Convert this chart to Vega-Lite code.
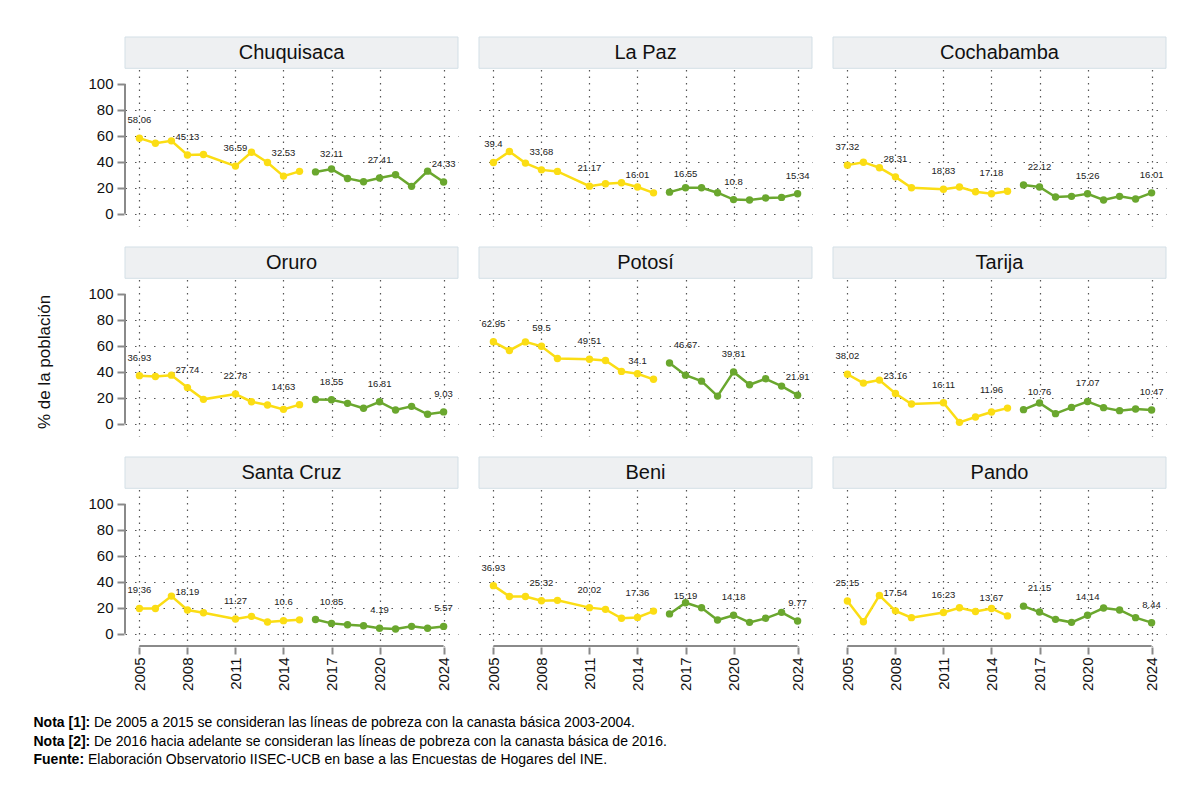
{
"$schema": "https://vega.github.io/schema/vega-lite/v6.json",
"background": "white",
"padding": {"left": 33, "top": 35, "right": 5, "bottom": 5},
"config": {"view": {"stroke": null}, "font": "Liberation Sans", "header": {"labels": false, "title": null}},
"datasets": {
"pov": [
{"r":"Chuquisaca","y":2005,"v":58.06,"p":"A","ly":2005},{"r":"Chuquisaca","y":2006,"v":54.2,"p":"A"},{"r":"Chuquisaca","y":2007,"v":56.0,"p":"A"},{"r":"Chuquisaca","y":2008,"v":45.13,"p":"A","ly":2008},{"r":"Chuquisaca","y":2009,"v":45.5,"p":"A"},{"r":"Chuquisaca","y":2011,"v":36.59,"p":"A","ly":2011},{"r":"Chuquisaca","y":2012,"v":47.3,"p":"A"},{"r":"Chuquisaca","y":2013,"v":39.4,"p":"A"},{"r":"Chuquisaca","y":2014,"v":28.9,"p":"A"},{"r":"Chuquisaca","y":2015,"v":32.53,"p":"A","ly":2014},
{"r":"Chuquisaca","y":2016,"v":32.11,"p":"B","ly":2017},{"r":"Chuquisaca","y":2017,"v":34.3,"p":"B"},{"r":"Chuquisaca","y":2018,"v":27.1,"p":"B"},{"r":"Chuquisaca","y":2019,"v":24.6,"p":"B"},{"r":"Chuquisaca","y":2020,"v":27.41,"p":"B","ly":2020},{"r":"Chuquisaca","y":2021,"v":29.9,"p":"B"},{"r":"Chuquisaca","y":2022,"v":21.0,"p":"B"},{"r":"Chuquisaca","y":2023,"v":32.7,"p":"B"},{"r":"Chuquisaca","y":2024,"v":24.33,"p":"B","ly":2024},
{"r":"La Paz","y":2005,"v":39.4,"p":"A","ly":2005},{"r":"La Paz","y":2006,"v":47.8,"p":"A"},{"r":"La Paz","y":2007,"v":38.9,"p":"A"},{"r":"La Paz","y":2008,"v":33.68,"p":"A","ly":2008},{"r":"La Paz","y":2009,"v":32.5,"p":"A"},{"r":"La Paz","y":2011,"v":21.17,"p":"A","ly":2011},{"r":"La Paz","y":2012,"v":23.0,"p":"A"},{"r":"La Paz","y":2013,"v":23.8,"p":"A"},{"r":"La Paz","y":2014,"v":20.5,"p":"A"},{"r":"La Paz","y":2015,"v":16.01,"p":"A","ly":2014},
{"r":"La Paz","y":2016,"v":16.55,"p":"B","ly":2017},{"r":"La Paz","y":2017,"v":19.9,"p":"B"},{"r":"La Paz","y":2018,"v":19.9,"p":"B"},{"r":"La Paz","y":2019,"v":16.1,"p":"B"},{"r":"La Paz","y":2020,"v":10.8,"p":"B","ly":2020},{"r":"La Paz","y":2021,"v":10.5,"p":"B"},{"r":"La Paz","y":2022,"v":12.0,"p":"B"},{"r":"La Paz","y":2023,"v":12.5,"p":"B"},{"r":"La Paz","y":2024,"v":15.34,"p":"B","ly":2024},
{"r":"Cochabamba","y":2005,"v":37.32,"p":"A","ly":2005},{"r":"Cochabamba","y":2006,"v":39.6,"p":"A"},{"r":"Cochabamba","y":2007,"v":35.3,"p":"A"},{"r":"Cochabamba","y":2008,"v":28.31,"p":"A","ly":2008},{"r":"Cochabamba","y":2009,"v":19.9,"p":"A"},{"r":"Cochabamba","y":2011,"v":18.83,"p":"A","ly":2011},{"r":"Cochabamba","y":2012,"v":20.5,"p":"A"},{"r":"Cochabamba","y":2013,"v":16.9,"p":"A"},{"r":"Cochabamba","y":2014,"v":15.3,"p":"A"},{"r":"Cochabamba","y":2015,"v":17.18,"p":"A","ly":2014},
{"r":"Cochabamba","y":2016,"v":22.12,"p":"B","ly":2017},{"r":"Cochabamba","y":2017,"v":20.5,"p":"B"},{"r":"Cochabamba","y":2018,"v":12.8,"p":"B"},{"r":"Cochabamba","y":2019,"v":13.3,"p":"B"},{"r":"Cochabamba","y":2020,"v":15.26,"p":"B","ly":2020},{"r":"Cochabamba","y":2021,"v":10.5,"p":"B"},{"r":"Cochabamba","y":2022,"v":13.3,"p":"B"},{"r":"Cochabamba","y":2023,"v":11.3,"p":"B"},{"r":"Cochabamba","y":2024,"v":16.01,"p":"B","ly":2024},
{"r":"Oruro","y":2005,"v":36.93,"p":"A","ly":2005},{"r":"Oruro","y":2006,"v":36.3,"p":"A"},{"r":"Oruro","y":2007,"v":37.3,"p":"A"},{"r":"Oruro","y":2008,"v":27.74,"p":"A","ly":2008},{"r":"Oruro","y":2009,"v":18.7,"p":"A"},{"r":"Oruro","y":2011,"v":22.78,"p":"A","ly":2011},{"r":"Oruro","y":2012,"v":16.9,"p":"A"},{"r":"Oruro","y":2013,"v":14.3,"p":"A"},{"r":"Oruro","y":2014,"v":11.0,"p":"A"},{"r":"Oruro","y":2015,"v":14.63,"p":"A","ly":2014},
{"r":"Oruro","y":2016,"v":18.55,"p":"B","ly":2017},{"r":"Oruro","y":2017,"v":18.4,"p":"B"},{"r":"Oruro","y":2018,"v":15.6,"p":"B"},{"r":"Oruro","y":2019,"v":11.8,"p":"B"},{"r":"Oruro","y":2020,"v":16.81,"p":"B","ly":2020},{"r":"Oruro","y":2021,"v":10.5,"p":"B"},{"r":"Oruro","y":2022,"v":13.3,"p":"B"},{"r":"Oruro","y":2023,"v":7.2,"p":"B"},{"r":"Oruro","y":2024,"v":9.03,"p":"B","ly":2024},
{"r":"Potosí","y":2005,"v":62.95,"p":"A","ly":2005},{"r":"Potosí","y":2006,"v":56.3,"p":"A"},{"r":"Potosí","y":2007,"v":62.9,"p":"A"},{"r":"Potosí","y":2008,"v":59.5,"p":"A","ly":2008},{"r":"Potosí","y":2009,"v":50.1,"p":"A"},{"r":"Potosí","y":2011,"v":49.51,"p":"A","ly":2011},{"r":"Potosí","y":2012,"v":48.6,"p":"A"},{"r":"Potosí","y":2013,"v":40.2,"p":"A"},{"r":"Potosí","y":2014,"v":38.4,"p":"A"},{"r":"Potosí","y":2015,"v":34.1,"p":"A","ly":2014},
{"r":"Potosí","y":2016,"v":46.67,"p":"B","ly":2017},{"r":"Potosí","y":2017,"v":37.3,"p":"B"},{"r":"Potosí","y":2018,"v":32.7,"p":"B"},{"r":"Potosí","y":2019,"v":21.2,"p":"B"},{"r":"Potosí","y":2020,"v":39.81,"p":"B","ly":2020},{"r":"Potosí","y":2021,"v":29.9,"p":"B"},{"r":"Potosí","y":2022,"v":34.5,"p":"B"},{"r":"Potosí","y":2023,"v":28.9,"p":"B"},{"r":"Potosí","y":2024,"v":21.91,"p":"B","ly":2024},
{"r":"Tarija","y":2005,"v":38.02,"p":"A","ly":2005},{"r":"Tarija","y":2006,"v":31.2,"p":"A"},{"r":"Tarija","y":2007,"v":33.5,"p":"A"},{"r":"Tarija","y":2008,"v":23.16,"p":"A","ly":2008},{"r":"Tarija","y":2009,"v":15.1,"p":"A"},{"r":"Tarija","y":2011,"v":16.11,"p":"A","ly":2011},{"r":"Tarija","y":2012,"v":1.0,"p":"A"},{"r":"Tarija","y":2013,"v":5.1,"p":"A"},{"r":"Tarija","y":2014,"v":9.0,"p":"A"},{"r":"Tarija","y":2015,"v":11.96,"p":"A","ly":2014},
{"r":"Tarija","y":2016,"v":10.76,"p":"B","ly":2017},{"r":"Tarija","y":2017,"v":15.9,"p":"B"},{"r":"Tarija","y":2018,"v":7.7,"p":"B"},{"r":"Tarija","y":2019,"v":12.5,"p":"B"},{"r":"Tarija","y":2020,"v":17.07,"p":"B","ly":2020},{"r":"Tarija","y":2021,"v":12.3,"p":"B"},{"r":"Tarija","y":2022,"v":10.0,"p":"B"},{"r":"Tarija","y":2023,"v":11.3,"p":"B"},{"r":"Tarija","y":2024,"v":10.47,"p":"B","ly":2024},
{"r":"Santa Cruz","y":2005,"v":19.36,"p":"A","ly":2005},{"r":"Santa Cruz","y":2006,"v":19.4,"p":"A"},{"r":"Santa Cruz","y":2007,"v":28.9,"p":"A"},{"r":"Santa Cruz","y":2008,"v":18.19,"p":"A","ly":2008},{"r":"Santa Cruz","y":2009,"v":16.1,"p":"A"},{"r":"Santa Cruz","y":2011,"v":11.27,"p":"A","ly":2011},{"r":"Santa Cruz","y":2012,"v":13.3,"p":"A"},{"r":"Santa Cruz","y":2013,"v":9.0,"p":"A"},{"r":"Santa Cruz","y":2014,"v":10.0,"p":"A"},{"r":"Santa Cruz","y":2015,"v":10.6,"p":"A","ly":2014},
{"r":"Santa Cruz","y":2016,"v":10.85,"p":"B","ly":2017},{"r":"Santa Cruz","y":2017,"v":7.9,"p":"B"},{"r":"Santa Cruz","y":2018,"v":6.9,"p":"B"},{"r":"Santa Cruz","y":2019,"v":6.1,"p":"B"},{"r":"Santa Cruz","y":2020,"v":4.19,"p":"B","ly":2020},{"r":"Santa Cruz","y":2021,"v":3.6,"p":"B"},{"r":"Santa Cruz","y":2022,"v":5.6,"p":"B"},{"r":"Santa Cruz","y":2023,"v":4.1,"p":"B"},{"r":"Santa Cruz","y":2024,"v":5.57,"p":"B","ly":2024},
{"r":"Beni","y":2005,"v":36.93,"p":"A","ly":2005},{"r":"Beni","y":2006,"v":28.6,"p":"A"},{"r":"Beni","y":2007,"v":28.6,"p":"A"},{"r":"Beni","y":2008,"v":25.32,"p":"A","ly":2008},{"r":"Beni","y":2009,"v":25.6,"p":"A"},{"r":"Beni","y":2011,"v":20.02,"p":"A","ly":2011},{"r":"Beni","y":2012,"v":18.7,"p":"A"},{"r":"Beni","y":2013,"v":11.8,"p":"A"},{"r":"Beni","y":2014,"v":12.5,"p":"A"},{"r":"Beni","y":2015,"v":17.36,"p":"A","ly":2014},
{"r":"Beni","y":2016,"v":15.19,"p":"B","ly":2017},{"r":"Beni","y":2017,"v":23.8,"p":"B"},{"r":"Beni","y":2018,"v":19.9,"p":"B"},{"r":"Beni","y":2019,"v":10.5,"p":"B"},{"r":"Beni","y":2020,"v":14.18,"p":"B","ly":2020},{"r":"Beni","y":2021,"v":8.7,"p":"B"},{"r":"Beni","y":2022,"v":11.8,"p":"B"},{"r":"Beni","y":2023,"v":16.4,"p":"B"},{"r":"Beni","y":2024,"v":9.77,"p":"B","ly":2024},
{"r":"Pando","y":2005,"v":25.15,"p":"A","ly":2005},{"r":"Pando","y":2006,"v":9.2,"p":"A"},{"r":"Pando","y":2007,"v":29.4,"p":"A"},{"r":"Pando","y":2008,"v":17.54,"p":"A","ly":2008},{"r":"Pando","y":2009,"v":12.3,"p":"A"},{"r":"Pando","y":2011,"v":16.23,"p":"A","ly":2011},{"r":"Pando","y":2012,"v":19.9,"p":"A"},{"r":"Pando","y":2013,"v":17.1,"p":"A"},{"r":"Pando","y":2014,"v":19.4,"p":"A"},{"r":"Pando","y":2015,"v":13.67,"p":"A","ly":2014},
{"r":"Pando","y":2016,"v":21.15,"p":"B","ly":2017},{"r":"Pando","y":2017,"v":16.6,"p":"B"},{"r":"Pando","y":2018,"v":11.0,"p":"B"},{"r":"Pando","y":2019,"v":8.7,"p":"B"},{"r":"Pando","y":2020,"v":14.14,"p":"B","ly":2020},{"r":"Pando","y":2021,"v":19.7,"p":"B"},{"r":"Pando","y":2022,"v":18.2,"p":"B"},{"r":"Pando","y":2023,"v":12.3,"p":"B"},{"r":"Pando","y":2024,"v":8.44,"p":"B","ly":2024}
],
"notes": [
{"k":1,"b":"Nota [1]:","t":"De 2005 a 2015 se consideran las líneas de pobreza con la canasta básica 2003-2004."},
{"k":2,"b":"Nota [2]:","t":"De 2016 hacia adelante se consideran las líneas de pobreza con la canasta básica de 2016."},
{"k":3,"b":"Fuente:","t":"Elaboración Observatorio IISEC-UCB en base a las Encuestas de Hogares del INE."}
]
},
"vconcat": [
{"hconcat": [
  {"width": 24, "height": 650, "data": {"values": [{"t": "% de la población"}]},
   "mark": {"type": "text", "angle": 270, "fontSize": 17, "color": "#111"},
   "encoding": {"text": {"field": "t"}}},
  {"data": {"name": "pov"},
   "facet": {"field": "r", "type": "nominal", "sort": ["Chuquisaca","La Paz","Cochabamba","Oruro","Potosí","Tarija","Santa Cruz","Beni","Pando"], "title": null, "header": {"labels": false, "title": null, "labelExpr": "''", "labelFontSize": 1, "labelPadding": 0}},
   "columns": 3,
   "spacing": {"row": 18, "column": 19},
   "spec": {"width": 333, "height": 189, "layer": [
     {"transform": [{"aggregate": [{"op": "count", "as": "n"}], "groupby": ["r"]}],
      "mark": {"type": "rect", "fill": "#EEF0F2", "stroke": "#D3DFE6", "strokeWidth": 1},
      "encoding": {"x": {"datum": 2004.1, "type": "quantitative", "title": null},
                   "x2": {"datum": 2024.9},
                   "y": {"datum": 111.8, "type": "quantitative", "title": null},
                   "y2": {"datum": 135.9}}},
     {"transform": [{"aggregate": [{"op": "count", "as": "n"}], "groupby": ["r"]}],
      "mark": {"type": "text", "fontSize": 20, "color": "#111"},
      "encoding": {"x": {"datum": 2014.5, "type": "quantitative", "title": null},
                   "y": {"datum": 123.9, "type": "quantitative", "title": null},
                   "text": {"field": "r"}}},
     {"transform": [{"filter": "datum.r === 'Chuquisaca' || datum.r === 'Oruro' || datum.r === 'Santa Cruz'"}, {"aggregate": [{"op": "count", "as": "n"}], "groupby": ["r"]}],
      "mark": {"type": "rule", "color": "#8A8A8A", "strokeWidth": 2},
      "encoding": {"x": {"datum": 2004.1, "type": "quantitative", "title": null},
                   "y": {"datum": 0, "type": "quantitative", "title": null},
                   "y2": {"datum": 100}}},
     {"transform": [{"filter": "datum.r === 'Santa Cruz' || datum.r === 'Beni' || datum.r === 'Pando'"}, {"aggregate": [{"op": "count", "as": "n"}], "groupby": ["r"]}],
      "mark": {"type": "rule", "color": "#8A8A8A", "strokeWidth": 2},
      "encoding": {"x": {"datum": 2005, "type": "quantitative", "title": null},
                   "x2": {"datum": 2024},
                   "y": {"datum": -9.5, "type": "quantitative", "title": null}}},
     {"mark": {"type": "line", "strokeWidth": 2.5},
      "encoding": {"x": {"field": "y", "type": "quantitative", "title": null},
                   "y": {"field": "v", "type": "quantitative", "title": null},
                   "color": {"field": "p", "type": "nominal", "scale": {"domain": ["A", "B"], "range": ["#FBDD14", "#6AA72E"]}, "legend": null}}},
     {"mark": {"type": "circle", "size": 55, "opacity": 1},
      "encoding": {"x": {"field": "y", "type": "quantitative", "title": null},
                   "y": {"field": "v", "type": "quantitative", "title": null},
                   "color": {"field": "p", "type": "nominal", "legend": null}}},
     {"transform": [{"filter": "datum.ly != null"}],
      "mark": {"type": "text", "fontSize": 9.5, "dy": -18, "color": "#222"},
      "encoding": {"x": {"field": "ly", "type": "quantitative", "title": null},
                   "y": {"field": "v", "type": "quantitative", "title": null},
                   "text": {"field": "v", "type": "quantitative"}}}
   ],
   "encoding": {
     "x": {"type": "quantitative", "scale": {"domain": [2004.1, 2024.9], "nice": false, "zero": false},
           "axis": {"values": [2005, 2008, 2011, 2014, 2017, 2020, 2024], "format": "d", "labelAngle": -90, "labelOverlap": false, "labelFontSize": 15, "labelColor": "#111", "labelPadding": 3, "tickSize": 7, "tickWidth": 2, "tickColor": "#8A8A8A", "domain": false, "grid": true, "gridColor": "#555", "gridDash": [1.5, 5], "gridWidth": 1.2, "title": null}},
     "y": {"type": "quantitative", "scale": {"domain": [-9.5, 135.9], "nice": false, "zero": false},
           "axis": {"values": [0, 20, 40, 60, 80, 100], "labelOverlap": false, "labelFontSize": 15, "labelColor": "#111", "labelPadding": 4, "tickSize": 7, "tickWidth": 2, "tickColor": "#8A8A8A", "domain": false, "grid": true, "gridColor": "#555", "gridDash": [1.5, 8], "gridWidth": 1.2, "gridOpacity": {"condition": {"test": "datum.value === 100", "value": 0}, "value": 1}, "title": null}}
   }}}
 ], "spacing": 30},
{"width": 1, "height": 55, "data": {"name": "notes"},
 "layer": [
   {"mark": {"type": "text", "align": "left", "fontWeight": "bold", "fontSize": 14, "color": "#000"},
    "encoding": {"y": {"field": "k", "type": "ordinal", "axis": null}, "text": {"field": "b"}}},
   {"transform": [{"filter": "datum.k < 3"}],
    "mark": {"type": "text", "align": "left", "fontSize": 14, "dx": 60.5, "color": "#000"},
    "encoding": {"y": {"field": "k", "type": "ordinal", "axis": null}, "text": {"field": "t"}}},
   {"transform": [{"filter": "datum.k == 3"}],
    "mark": {"type": "text", "align": "left", "fontSize": 14, "dx": 54.5, "color": "#000"},
    "encoding": {"y": {"field": "k", "type": "ordinal", "axis": null}, "text": {"field": "t"}}}
 ]}
],
"spacing": 23
}
